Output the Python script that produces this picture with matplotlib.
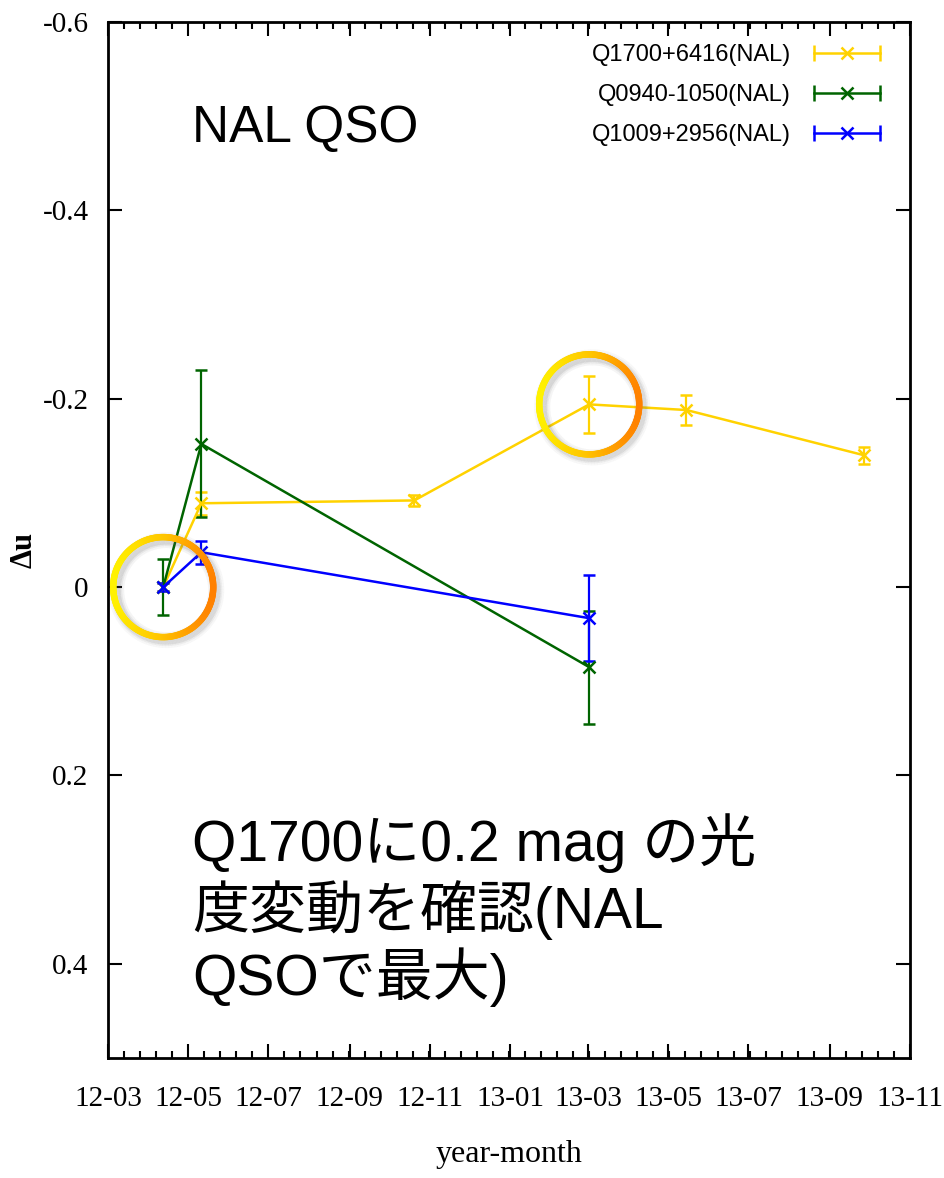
import numpy as np
import matplotlib
matplotlib.use("Agg")
import matplotlib.pyplot as plt
import matplotlib.dates as mdates
import matplotlib.transforms as mtransforms
from matplotlib.collections import LineCollection
from matplotlib.colors import LinearSegmentedColormap
from matplotlib.lines import Line2D
from matplotlib.legend_handler import HandlerLine2D, HandlerTuple
from matplotlib.ticker import AutoMinorLocator

# u-band magnitude change of NAL quasars
dates_q1700 = ["2012-04-12", "2012-05-11", "2012-10-20", "2013-03-02", "2013-05-15", "2013-09-27"]
du_q1700 = [0.0, -0.089, -0.092, -0.194, -0.188, -0.140]
err_q1700 = [0.004, 0.012, 0.006, 0.030, 0.016, 0.009]

dates_q0940 = ["2012-04-12", "2012-05-11", "2013-03-02"]
du_q0940 = [0.0, -0.152, 0.085]
err_q0940 = [0.030, 0.078, 0.060]

dates_q1009 = ["2012-04-12", "2012-05-11", "2013-03-02"]
du_q1009 = [0.0, -0.037, 0.033]
err_q1009 = [0.004, 0.012, 0.046]

labels = ["Q1700+6416(NAL)", "Q0940-1050(NAL)", "Q1009+2956(NAL)"]
colors = ["#FFD200", "#006400", "#0000FF"]

yticks = [-0.6, -0.4, -0.2, 0.0, 0.2, 0.4]

# highlighted points (date, du)
highlights = [("2012-04-12", 0.0), ("2013-03-02", -0.194)]

DPI = 100
fig = plt.figure(figsize=(9.45, 11.78), dpi=DPI)
ax = fig.add_axes([108 / 945, 1 - 1058 / 1178, (910 - 108) / 945, (1058 - 22) / 1178])

series = [
    (dates_q1700, du_q1700, err_q1700),
    (dates_q0940, du_q0940, err_q0940),
    (dates_q1009, du_q1009, err_q1009),
]
handles = []
hmap = {}
for (d, v, e), lab, c in zip(series, labels, colors):
    x = mdates.date2num(np.array(d, dtype="datetime64[D]"))
    ax.errorbar(x, v, yerr=e, color=c, lw=1.8, elinewidth=1.6, capsize=4,
                capthick=1.8, marker="x", markersize=9, markeredgewidth=1.8)
    caps = Line2D([], [], color=c, lw=1.8, marker="|", markersize=11, markeredgewidth=1.8)
    mark = Line2D([], [], color=c, lw=0, marker="x", markersize=9, markeredgewidth=1.8)
    hmap[caps] = HandlerLine2D(numpoints=2)
    hmap[mark] = HandlerLine2D(numpoints=1)
    handles.append((caps, mark))

hmap[tuple] = HandlerTuple(ndivide=1)
leg = ax.legend(handles, labels, handler_map=hmap, loc="upper right", frameon=False,
                markerfirst=False, handlelength=3.4, handletextpad=0.7,
                labelspacing=0.75, borderaxespad=0.55,
                prop={"family": "Liberation Sans", "size": 17})

ax.set_xlim(mdates.date2num(np.datetime64("2012-03-01")), mdates.date2num(np.datetime64("2013-11-01")))
ax.set_ylim(0.5, -0.6)
ax.xaxis.set_major_locator(mdates.MonthLocator(bymonth=[1, 3, 5, 7, 9, 11]))
ax.xaxis.set_major_formatter(mdates.DateFormatter("%y-%m"))
ax.xaxis.set_minor_locator(AutoMinorLocator(5))
ax.set_yticks(yticks)
ax.set_yticklabels([f"{v:g}" for v in yticks])

ax.tick_params(which="both", direction="in", top=True, right=True, width=1.5)
ax.tick_params(which="major", length=10)
ax.tick_params(which="minor", length=5)
ax.tick_params(axis="x", pad=20)
ax.tick_params(axis="y", pad=14)
for lab in ax.get_xticklabels() + ax.get_yticklabels():
    lab.set_family("Liberation Serif")
    lab.set_fontsize(21)
for sp in ax.spines.values():
    sp.set_linewidth(2)

ax.set_xlabel("year-month", family="Liberation Serif", fontsize=23, labelpad=20)
ax.set_ylabel("Δu", family="Liberation Serif", fontsize=22, fontweight="bold", va="center")
ax.yaxis.set_label_coords(-0.104, 0.49)

# gradient rings around the highlighted points
ring_cmap = LinearSegmentedColormap.from_list("ring", ["#FFF200", "#FFC400", "#FF8000"])
theta = np.linspace(0, 2 * np.pi, 241)
r_in = 50 / DPI
pts = np.column_stack([r_in * np.cos(theta), r_in * np.sin(theta)])
segs = np.stack([pts[:-1], pts[1:]], axis=1)
tcol = (1 + np.cos(0.5 * (theta[:-1] + theta[1:]))) / 2
for d, v in highlights:
    xd = mdates.date2num(np.datetime64(d))
    base = fig.dpi_scale_trans + mtransforms.ScaledTranslation(xd, v, ax.transData)
    for k, (w, a) in enumerate([(16, 0.05), (12, 0.08), (9, 0.12)]):
        shadow = LineCollection(segs, colors="#606060", linewidths=w * 72 / DPI, alpha=a,
                                transform=mtransforms.Affine2D().translate(3 / DPI, -3 / DPI) + base,
                                clip_on=False, zorder=5)
        ax.add_collection(shadow, autolim=False)
    ring = LineCollection(segs, colors=ring_cmap(tcol), linewidths=6.5 * 72 / DPI,
                          transform=base, clip_on=False, zorder=6, capstyle="round")
    ax.add_collection(ring, autolim=False)

ax.text(192 / 945, 1 - 128 / 1178, "NAL QSO", transform=fig.transFigure,
        family="Liberation Sans", fontsize=37, va="center", ha="left")
ax.text(192 / 945, 1 - 910 / 1178, "Q1700に0.2 mag の光\n度変動を確認(NAL\nQSOで最大)",
        transform=fig.transFigure, family=["Liberation Sans", "Noto Sans CJK JP"],
        fontsize=41, va="center", ha="left", linespacing=1.15)

fig.savefig("out.png", dpi=DPI)
